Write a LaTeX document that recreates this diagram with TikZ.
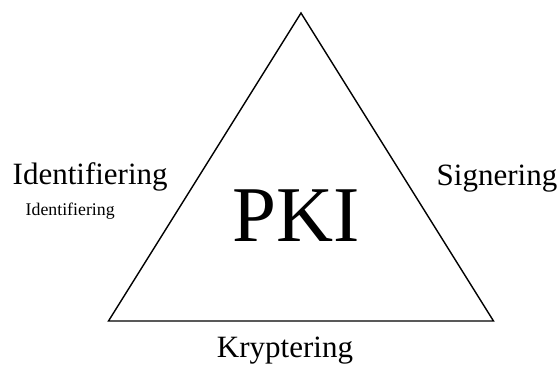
\documentclass[tikz,border=0pt]{standalone}
\usepackage{fontspec}
\setmainfont{Liberation Serif}
\usetikzlibrary{calc}

\tikzset{
  etichetta/.style={inner sep=0pt, font=\fontsize{31}{31}\selectfont},
  piccola/.style={inner sep=0pt, font=\fontsize{17.8}{18}\selectfont},
  titolo/.style={inner sep=0pt, font=\fontsize{79}{79}\selectfont}
}

\begin{document}
\begin{tikzpicture}[x=1pt,y=-1pt]
\useasboundingbox (0,0) rectangle (558,365);

% vertici del triangolo
\coordinate (top) at (301,13);
\coordinate (sx) at (108.5,321);
\coordinate (dx) at (493.5,321);
\draw[line width=1.4pt, line join=miter] (top) -- (sx) -- (dx) -- cycle;

%testi
\node[titolo, anchor=base] (pki) at (296.5,241.5) {PKI};
\node[etichetta, anchor=base west] (ident) at (12.5,184) {Identifiering};
\node[piccola, anchor=base west] (identsmall) at (25.5,215.5) {Identifiering};
\node[etichetta, anchor=base west] (sign) at (436.5,185) {Signering};
\node[etichetta, anchor=base] (krypt) at (285,357) {Kryptering};
\end{tikzpicture}
\end{document}
